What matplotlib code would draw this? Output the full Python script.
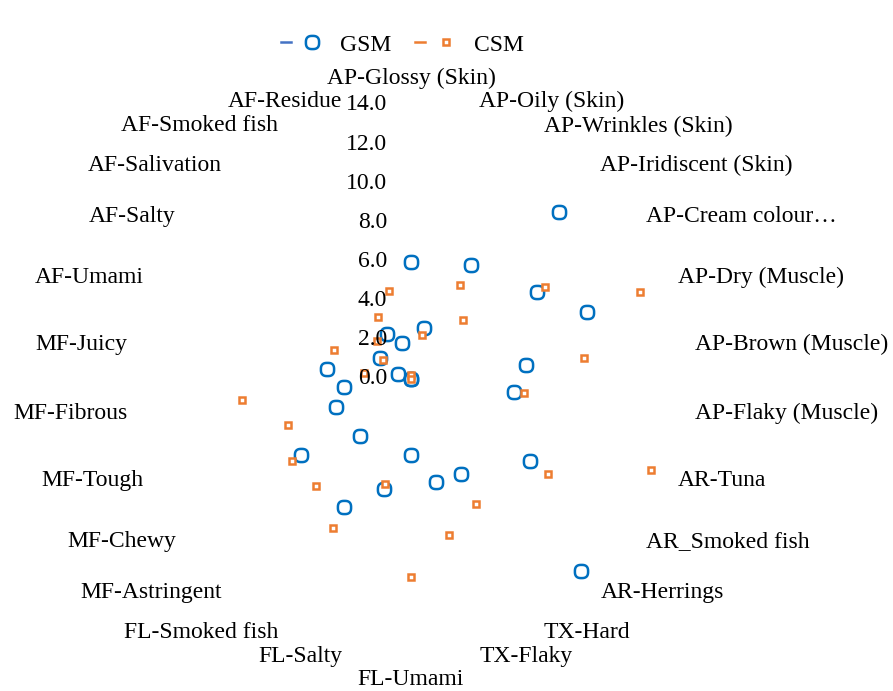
import numpy as np
import matplotlib
matplotlib.use("Agg")
import matplotlib.pyplot as plt
from matplotlib.path import Path
from matplotlib.lines import Line2D
from matplotlib.legend_handler import HandlerTuple
import matplotlib.transforms as mtransforms

categories = [
    "AP-Glossy (Skin)", "AP-Oily (Skin)", "AP-Wrinkles (Skin)", "AP-Iridiscent (Skin)",
    "AP-Cream colour\u2026", "AP-Dry (Muscle)", "AP-Brown (Muscle)", "AP-Flaky (Muscle)",
    "AR-Tuna", "AR_Smoked fish", "AR-Herrings", "TX-Hard", "TX-Flaky", "FL-Umami",
    "FL-Salty", "FL-Smoked fish", "MF-Astringent", "MF-Chewy", "MF-Tough", "MF-Fibrous",
    "MF-Juicy", "AF-Umami", "AF-Salty", "AF-Salivation", "AF-Smoked fish", "AF-Residue",
]
gsm = [6.0, 2.7, 6.6, 11.4, 7.8, 9.6, 5.9, 5.3, 0.0, 7.4, 13.1, 5.5, 5.4,
       3.9, 5.8, 7.4, 3.9, 6.8, 4.1, 3.45, 4.3, 0.7, 1.9, 0.0, 2.6, 1.9]
csm = [0.2, 2.3, 5.4, 4.0, 8.3, 12.5, 8.9, 5.8, 13.1, 8.5, 0.0, 7.2, 8.2,
       10.1, 5.5, 8.6, 7.3, 7.4, 6.7, 8.7, 2.4, 4.2, 1.75, 2.6, 3.6, 4.65]
r_ticks = [0, 2, 4, 6, 8, 10, 12, 14]
series_names = ["GSM", "CSM"]

blue = "#0070C0"
orange = "#ED7D31"
plt.rcParams["font.family"] = ["Liberation Serif", "DejaVu Serif"]
fs = 17

# rounded marker (Excel style circle)
t = np.linspace(0, 2 * np.pi, 80)
sx = np.sign(np.cos(t)) * np.abs(np.cos(t)) ** 0.75
sy = np.sign(np.sin(t)) * np.abs(np.sin(t)) ** 0.75
rsq = Path(np.column_stack([sx, sy]), closed=True)

fig = plt.figure(figsize=(8.93, 6.91), dpi=100)
ax = fig.add_axes([137 / 893, 38 / 691, 548 / 893, 548 / 691], projection="polar")
ax.set_theta_zero_location("N")
ax.set_theta_direction(-1)
ax.set_ylim(0, 14)

theta = np.arange(len(categories)) * 2 * np.pi / len(categories)

ax.plot(theta, gsm, linestyle="none", marker=rsq, markersize=9.5,
        markerfacecolor="none", markeredgecolor=blue, markeredgewidth=1.8, clip_on=False)
ax.plot(theta, csm, linestyle="none", marker="s", markersize=5,
        markerfacecolor="white", markeredgecolor=orange, markeredgewidth=1.8, clip_on=False)

ax.grid(False)
ax.spines["polar"].set_visible(False)
ax.set_xticks([])
ax.set_yticks([])

# category labels
for th, lab in zip(theta, categories):
    deg = np.degrees(th)
    if np.isclose(deg, 0) or np.isclose(deg, 180):
        ax.text(th, 15.35, lab, ha="center", va="center", fontsize=fs, clip_on=False)
    elif deg < 180:
        ax.text(th, 14.6, lab, ha="left", va="center", fontsize=fs, clip_on=False)
    else:
        ax.text(th, 14.6, lab, ha="right", va="center", fontsize=fs, clip_on=False)

# radial value labels
off = mtransforms.offset_copy(ax.transData, fig=fig, x=-24, y=0, units="dots")
for r in r_ticks:
    ax.text(0, r, f"{r:.1f}", ha="right", va="center", fontsize=fs, transform=off)

# legend
h1 = (Line2D([], [], color="#4472C4", lw=1.8), Line2D([], [], linestyle="none", marker=rsq,
      markersize=9.5, markerfacecolor="none", markeredgecolor=blue, markeredgewidth=1.8))
h2 = (Line2D([], [], color=orange, lw=1.8), Line2D([], [], linestyle="none", marker="s",
      markersize=5, markerfacecolor="white", markeredgecolor=orange, markeredgewidth=1.8))
fig.legend([h1, h2], series_names, loc="center", bbox_to_anchor=(0.451, 0.935), ncol=2,
           frameon=False, fontsize=fs, handlelength=1.5, handletextpad=1.0,
           columnspacing=1.0, handler_map={tuple: HandlerTuple(ndivide=None, pad=0.7)})

fig.savefig("out.png", dpi=100)
